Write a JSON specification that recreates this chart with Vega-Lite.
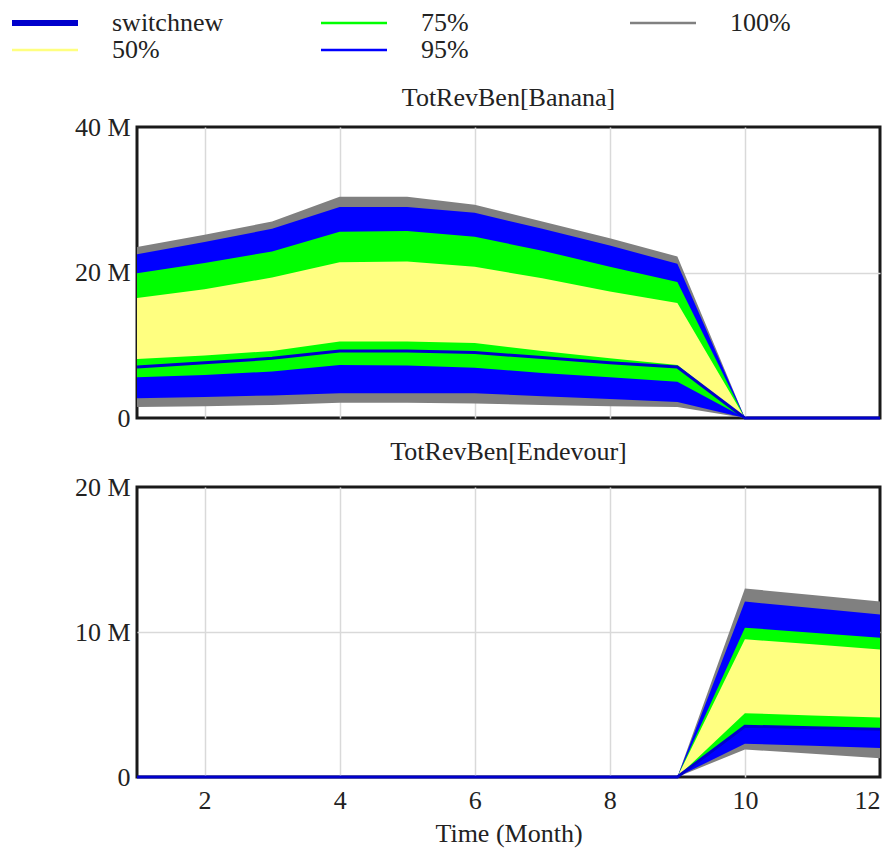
{
  "$schema": "https://vega.github.io/schema/vega-lite/v6.json",
  "background": "white",
  "padding": {"left": 32, "top": 10, "right": 0, "bottom": 5},
  "config": {
    "font": "Liberation Serif",
    "view": {"stroke": "#1a1a1a", "strokeWidth": 3},
    "axis": {
      "labelFont": "Liberation Serif",
      "labelFontSize": 26,
      "labelColor": "#222222",
      "titleFont": "Liberation Serif",
      "titleFontSize": 26,
      "titleFontWeight": "normal",
      "titleColor": "#222222",
      "gridColor": "#d9d9d9",
      "gridWidth": 1.5,
      "domain": false,
      "ticks": false
    },
    "title": {"font": "Liberation Serif", "fontSize": 26, "fontWeight": "normal", "color": "#222222"},
    "legend": {
      "orient": "none",
      "legendX": -105,
      "legendY": -117,
      "columns": 3,
      "gridAlign": "all",
      "columnPadding": 92,
      "rowPadding": 1,
      "symbolType": "M-3,0H3",
      "symbolSize": 484,
      "labelFont": "Liberation Serif",
      "labelFontSize": 26,
      "labelColor": "#222222",
      "labelOffset": 54
    }
  },
  "datasets": {
    "banana": [
      {"month": 1, "g_lo": 1.5, "b_lo": 2.7, "gr_lo": 5.6, "y_lo": 8.1, "y_hi": 16.5, "gr_hi": 19.9, "b_hi": 22.5, "g_hi": 23.5, "med": 7.0},
      {"month": 2, "g_lo": 1.6, "b_lo": 2.9, "gr_lo": 5.9, "y_lo": 8.6, "y_hi": 17.7, "gr_hi": 21.3, "b_hi": 24.2, "g_hi": 25.2, "med": 7.6},
      {"month": 3, "g_lo": 1.8, "b_lo": 3.1, "gr_lo": 6.4, "y_lo": 9.2, "y_hi": 19.3, "gr_hi": 22.9, "b_hi": 26.0, "g_hi": 27.0, "med": 8.2},
      {"month": 4, "g_lo": 2.1, "b_lo": 3.4, "gr_lo": 7.3, "y_lo": 10.5, "y_hi": 21.4, "gr_hi": 25.6, "b_hi": 29.0, "g_hi": 30.4, "med": 9.2},
      {"month": 5, "g_lo": 2.1, "b_lo": 3.4, "gr_lo": 7.2, "y_lo": 10.5, "y_hi": 21.5, "gr_hi": 25.7, "b_hi": 29.0, "g_hi": 30.4, "med": 9.2},
      {"month": 6, "g_lo": 2.0, "b_lo": 3.4, "gr_lo": 6.9, "y_lo": 10.3, "y_hi": 20.8, "gr_hi": 24.9, "b_hi": 28.2, "g_hi": 29.3, "med": 9.0},
      {"month": 7, "g_lo": 1.8, "b_lo": 3.0, "gr_lo": 6.2, "y_lo": 9.2, "y_hi": 19.2, "gr_hi": 23.0, "b_hi": 26.0, "g_hi": 27.0, "med": 8.3},
      {"month": 8, "g_lo": 1.6, "b_lo": 2.6, "gr_lo": 5.6, "y_lo": 8.2, "y_hi": 17.4, "gr_hi": 20.8, "b_hi": 23.7, "g_hi": 24.7, "med": 7.6},
      {"month": 9, "g_lo": 1.5, "b_lo": 2.2, "gr_lo": 5.0, "y_lo": 7.3, "y_hi": 15.8, "gr_hi": 18.7, "b_hi": 21.2, "g_hi": 22.2, "med": 7.0},
      {"month": 10, "g_lo": 0, "b_lo": 0, "gr_lo": 0, "y_lo": 0, "y_hi": 0, "gr_hi": 0, "b_hi": 0, "g_hi": 0, "med": 0},
      {"month": 11, "g_lo": 0, "b_lo": 0, "gr_lo": 0, "y_lo": 0, "y_hi": 0, "gr_hi": 0, "b_hi": 0, "g_hi": 0, "med": 0},
      {"month": 12, "g_lo": 0, "b_lo": 0, "gr_lo": 0, "y_lo": 0, "y_hi": 0, "gr_hi": 0, "b_hi": 0, "g_hi": 0, "med": 0}
    ],
    "endevour": [
      {"month": 1, "g_lo": 0, "b_lo": 0, "gr_lo": 0, "y_lo": 0, "y_hi": 0, "gr_hi": 0, "b_hi": 0, "g_hi": 0, "med": 0},
      {"month": 2, "g_lo": 0, "b_lo": 0, "gr_lo": 0, "y_lo": 0, "y_hi": 0, "gr_hi": 0, "b_hi": 0, "g_hi": 0, "med": 0},
      {"month": 3, "g_lo": 0, "b_lo": 0, "gr_lo": 0, "y_lo": 0, "y_hi": 0, "gr_hi": 0, "b_hi": 0, "g_hi": 0, "med": 0},
      {"month": 4, "g_lo": 0, "b_lo": 0, "gr_lo": 0, "y_lo": 0, "y_hi": 0, "gr_hi": 0, "b_hi": 0, "g_hi": 0, "med": 0},
      {"month": 5, "g_lo": 0, "b_lo": 0, "gr_lo": 0, "y_lo": 0, "y_hi": 0, "gr_hi": 0, "b_hi": 0, "g_hi": 0, "med": 0},
      {"month": 6, "g_lo": 0, "b_lo": 0, "gr_lo": 0, "y_lo": 0, "y_hi": 0, "gr_hi": 0, "b_hi": 0, "g_hi": 0, "med": 0},
      {"month": 7, "g_lo": 0, "b_lo": 0, "gr_lo": 0, "y_lo": 0, "y_hi": 0, "gr_hi": 0, "b_hi": 0, "g_hi": 0, "med": 0},
      {"month": 8, "g_lo": 0, "b_lo": 0, "gr_lo": 0, "y_lo": 0, "y_hi": 0, "gr_hi": 0, "b_hi": 0, "g_hi": 0, "med": 0},
      {"month": 9, "g_lo": 0, "b_lo": 0, "gr_lo": 0, "y_lo": 0, "y_hi": 0, "gr_hi": 0, "b_hi": 0, "g_hi": 0, "med": 0},
      {"month": 10, "g_lo": 1.9, "b_lo": 2.3, "gr_lo": 3.5, "y_lo": 4.4, "y_hi": 9.5, "gr_hi": 10.3, "b_hi": 12.1, "g_hi": 13.0, "med": 3.5},
      {"month": 11, "g_lo": 1.6, "b_lo": 2.15, "gr_lo": 3.4, "y_lo": 4.25, "y_hi": 9.15, "gr_hi": 9.95, "b_hi": 11.65, "g_hi": 12.55, "med": 3.4},
      {"month": 12, "g_lo": 1.3, "b_lo": 2.0, "gr_lo": 3.3, "y_lo": 4.1, "y_hi": 8.8, "gr_hi": 9.6, "b_hi": 11.2, "g_hi": 12.1, "med": 3.3}
    ]
  },
  "spacing": 4,
  "resolve": {"scale": {"color": "shared"}},
  "vconcat": [
    {
      "title": {"text": "TotRevBen[Banana]", "offset": 3},
      "width": 743,
      "height": 291,
      "data": {"name": "banana"},
      "encoding": {
        "x": {"field": "month", "type": "quantitative", "scale": {"domain": [1, 12], "nice": false, "zero": false},
              "axis": {"values": [2, 4, 6, 8, 10, 12], "labels": false, "title": null, "grid": true,
                       "gridColor": {"condition": {"test": "datum.value >= 12", "value": "transparent"}, "value": "#d9d9d9"}}}
      },
      "layer": [
        {"mark": {"type": "area", "opacity": 1},
         "encoding": {
           "y": {"field": "g_lo", "type": "quantitative", "scale": {"domain": [0, 40], "nice": false},
                 "axis": {"values": [0, 20, 40], "title": null, "grid": true, "labelPadding": 7,
                          "gridColor": {"condition": {"test": "datum.value == 0 || datum.value >= 40", "value": "transparent"}, "value": "#d9d9d9"},
                          "labelExpr": "datum.value == 0 ? '0' : datum.value + ' M'"}},
           "y2": {"field": "g_hi"},
           "color": {"datum": "100%", "type": "nominal",
                     "scale": {"domain": ["switchnew", "50%", "75%", "95%", "100%"],
                               "range": ["#0000cc", "#ffff80", "#00ff00", "#0000ff", "#808080"]},
                     "legend": {"title": null,
                                "encode": {"symbols": {"update": {
                                  "stroke": {"scale": "color", "field": "value"},
                                  "fill": {"value": "transparent"},
                                  "strokeWidth": {"signal": "datum.value === 'switchnew' ? 6 : 2.5"}}}}}}
         }},
        {"mark": {"type": "area", "opacity": 1},
         "encoding": {"y": {"field": "b_lo", "type": "quantitative"}, "y2": {"field": "b_hi"},
                      "color": {"datum": "95%", "type": "nominal",
                                "scale": {"domain": ["switchnew", "50%", "75%", "95%", "100%"],
                                          "range": ["#0000cc", "#ffff80", "#00ff00", "#0000ff", "#808080"]},
                                "legend": {"title": null,
                                           "encode": {"symbols": {"update": {
                                             "stroke": {"scale": "color", "field": "value"},
                                             "fill": {"value": "transparent"},
                                             "strokeWidth": {"signal": "datum.value === 'switchnew' ? 6 : 2.5"}}}}}}}},
        {"mark": {"type": "area", "opacity": 1},
         "encoding": {"y": {"field": "gr_lo", "type": "quantitative"}, "y2": {"field": "gr_hi"},
                      "color": {"datum": "75%", "type": "nominal",
                                "scale": {"domain": ["switchnew", "50%", "75%", "95%", "100%"],
                                          "range": ["#0000cc", "#ffff80", "#00ff00", "#0000ff", "#808080"]},
                                "legend": {"title": null,
                                           "encode": {"symbols": {"update": {
                                             "stroke": {"scale": "color", "field": "value"},
                                             "fill": {"value": "transparent"},
                                             "strokeWidth": {"signal": "datum.value === 'switchnew' ? 6 : 2.5"}}}}}}}},
        {"mark": {"type": "area", "opacity": 1},
         "encoding": {"y": {"field": "y_lo", "type": "quantitative"}, "y2": {"field": "y_hi"},
                      "color": {"datum": "50%", "type": "nominal",
                                "scale": {"domain": ["switchnew", "50%", "75%", "95%", "100%"],
                                          "range": ["#0000cc", "#ffff80", "#00ff00", "#0000ff", "#808080"]},
                                "legend": {"title": null,
                                           "encode": {"symbols": {"update": {
                                             "stroke": {"scale": "color", "field": "value"},
                                             "fill": {"value": "transparent"},
                                             "strokeWidth": {"signal": "datum.value === 'switchnew' ? 6 : 2.5"}}}}}}}},
        {"mark": {"type": "line", "strokeWidth": 3},
         "encoding": {"y": {"field": "med", "type": "quantitative"},
                      "color": {"datum": "switchnew", "type": "nominal",
                                "scale": {"domain": ["switchnew", "50%", "75%", "95%", "100%"],
                                          "range": ["#0000cc", "#ffff80", "#00ff00", "#0000ff", "#808080"]},
                                "legend": {"title": null,
                                           "encode": {"symbols": {"update": {
                                             "stroke": {"scale": "color", "field": "value"},
                                             "fill": {"value": "transparent"},
                                             "strokeWidth": {"signal": "datum.value === 'switchnew' ? 6 : 2.5"}}}}}}}}
      ]
    },
    {
      "title": {"text": "TotRevBen[Endevour]", "offset": 9},
      "width": 743,
      "height": 290,
      "data": {"name": "endevour"},
      "encoding": {
        "x": {"field": "month", "type": "quantitative", "scale": {"domain": [1, 12], "nice": false, "zero": false},
              "axis": {"values": [2, 4, 6, 8, 10, 12], "title": "Time (Month)", "grid": true, "labelPadding": 10, "titlePadding": 7,
                       "gridColor": {"condition": {"test": "datum.value >= 12", "value": "transparent"}, "value": "#d9d9d9"}}}
      },
      "layer": [
        {"mark": {"type": "area", "opacity": 1},
         "encoding": {
           "y": {"field": "g_lo", "type": "quantitative", "scale": {"domain": [0, 20], "nice": false},
                 "axis": {"values": [0, 10, 20], "title": null, "grid": true, "labelPadding": 7,
                          "gridColor": {"condition": {"test": "datum.value == 0 || datum.value >= 20", "value": "transparent"}, "value": "#d9d9d9"},
                          "labelExpr": "datum.value == 0 ? '0' : datum.value + ' M'"}},
           "y2": {"field": "g_hi"},
           "color": {"datum": "100%", "type": "nominal",
                     "scale": {"domain": ["switchnew", "50%", "75%", "95%", "100%"],
                               "range": ["#0000cc", "#ffff80", "#00ff00", "#0000ff", "#808080"]},
                     "legend": {"title": null,
                                "encode": {"symbols": {"update": {
                                  "stroke": {"scale": "color", "field": "value"},
                                  "fill": {"value": "transparent"},
                                  "strokeWidth": {"signal": "datum.value === 'switchnew' ? 6 : 2.5"}}}}}}
         }},
        {"mark": {"type": "area", "opacity": 1},
         "encoding": {"y": {"field": "b_lo", "type": "quantitative"}, "y2": {"field": "b_hi"},
                      "color": {"datum": "95%", "type": "nominal",
                                "scale": {"domain": ["switchnew", "50%", "75%", "95%", "100%"],
                                          "range": ["#0000cc", "#ffff80", "#00ff00", "#0000ff", "#808080"]},
                                "legend": {"title": null,
                                           "encode": {"symbols": {"update": {
                                             "stroke": {"scale": "color", "field": "value"},
                                             "fill": {"value": "transparent"},
                                             "strokeWidth": {"signal": "datum.value === 'switchnew' ? 6 : 2.5"}}}}}}}},
        {"mark": {"type": "area", "opacity": 1},
         "encoding": {"y": {"field": "gr_lo", "type": "quantitative"}, "y2": {"field": "gr_hi"},
                      "color": {"datum": "75%", "type": "nominal",
                                "scale": {"domain": ["switchnew", "50%", "75%", "95%", "100%"],
                                          "range": ["#0000cc", "#ffff80", "#00ff00", "#0000ff", "#808080"]},
                                "legend": {"title": null,
                                           "encode": {"symbols": {"update": {
                                             "stroke": {"scale": "color", "field": "value"},
                                             "fill": {"value": "transparent"},
                                             "strokeWidth": {"signal": "datum.value === 'switchnew' ? 6 : 2.5"}}}}}}}},
        {"mark": {"type": "area", "opacity": 1},
         "encoding": {"y": {"field": "y_lo", "type": "quantitative"}, "y2": {"field": "y_hi"},
                      "color": {"datum": "50%", "type": "nominal",
                                "scale": {"domain": ["switchnew", "50%", "75%", "95%", "100%"],
                                          "range": ["#0000cc", "#ffff80", "#00ff00", "#0000ff", "#808080"]},
                                "legend": {"title": null,
                                           "encode": {"symbols": {"update": {
                                             "stroke": {"scale": "color", "field": "value"},
                                             "fill": {"value": "transparent"},
                                             "strokeWidth": {"signal": "datum.value === 'switchnew' ? 6 : 2.5"}}}}}}}},
        {"mark": {"type": "line", "strokeWidth": 3},
         "encoding": {"y": {"field": "med", "type": "quantitative"},
                      "color": {"datum": "switchnew", "type": "nominal",
                                "scale": {"domain": ["switchnew", "50%", "75%", "95%", "100%"],
                                          "range": ["#0000cc", "#ffff80", "#00ff00", "#0000ff", "#808080"]},
                                "legend": {"title": null,
                                           "encode": {"symbols": {"update": {
                                             "stroke": {"scale": "color", "field": "value"},
                                             "fill": {"value": "transparent"},
                                             "strokeWidth": {"signal": "datum.value === 'switchnew' ? 6 : 2.5"}}}}}}}}
      ]
    }
  ]
}
